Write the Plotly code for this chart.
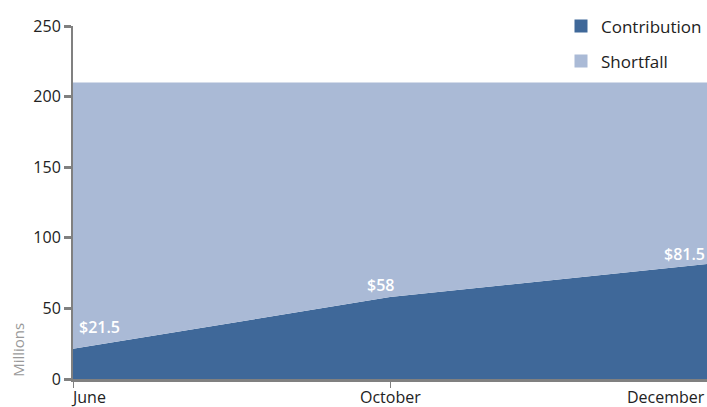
import plotly.graph_objects as go

months = ["June", "October", "December"]
contribution = [21.5, 58, 81.5]
total = [210, 210, 210]
shortfall = [t - c for t, c in zip(total, contribution)]
labels = ["$21.5", "$58", "$81.5"]
y_ticks = [0, 50, 100, 150, 200, 250]

xs = list(range(len(months)))
FONT = "'Open Sans', Lato, sans-serif"
C_CONTRIB = "#3f6899"
C_SHORT = "#aabad6"

fig = go.Figure()
fig.add_trace(go.Scatter(x=xs, y=contribution, name="Contribution", mode="lines",
                         stackgroup="one", line=dict(width=0, color=C_CONTRIB),
                         fillcolor=C_CONTRIB, hoverinfo="skip", showlegend=False))
fig.add_trace(go.Scatter(x=xs, y=shortfall, name="Shortfall", mode="lines",
                         stackgroup="one", line=dict(width=0, color=C_SHORT),
                         fillcolor=C_SHORT, hoverinfo="skip", showlegend=False))
# legend swatches
for name, col in [("Contribution", C_CONTRIB), ("Shortfall", C_SHORT)]:
    fig.add_trace(go.Scatter(x=[None], y=[None], mode="markers", name=name, legendgroup=name,
                             marker=dict(symbol="square", size=13, color=col)))

anns = []
xanchors = ["left", "center", "right"]
xshifts = [4, -10, 0]
yshifts = [22, 12, 10]
for i, lab in enumerate(labels):
    anns.append(dict(x=xs[i], y=contribution[i], text=lab, showarrow=False,
                     xanchor=xanchors[i], yanchor="middle", xshift=xshifts[i], yshift=yshifts[i],
                     font=dict(family=FONT, size=16, color="white", weight=600)))
for i, m in enumerate(months):
    anns.append(dict(x=xs[i], y=0, yref="y", text=m, showarrow=False,
                     xanchor=xanchors[i], yanchor="top", yshift=-5, xshift=[-4, 0, 0][i],
                     font=dict(family=FONT, size=16, color="#222")))
anns.append(dict(xref="paper", yref="paper", x=-0.087, y=0.0, text="Millions", textangle=-90,
                 showarrow=False, xanchor="center", yanchor="bottom",
                 font=dict(family=FONT, size=15, color="#999")))

fig.update_layout(
    width=707, height=407,
    margin=dict(l=73, r=0, t=26, b=28, autoexpand=False),
    paper_bgcolor="white", plot_bgcolor="white",
    font=dict(family=FONT, size=16, color="#222"),
    showlegend=True,
    legend=dict(x=1.0, y=1.05, xanchor="right", yanchor="top", traceorder="grouped",
                font=dict(size=17, color="#222"), bgcolor="rgba(0,0,0,0)",
                tracegroupgap=10, borderwidth=0),
    xaxis=dict(range=[0, 2], tickvals=[0, 1], showticklabels=False, ticks="outside",
               ticklen=6, tickcolor="#808080", tickwidth=1,
               showline=True, linecolor="#808080", linewidth=3, showgrid=False, zeroline=False,
               fixedrange=True),
    yaxis=dict(range=[0, 250], tickvals=y_ticks, ticks="outside", ticklen=7,
               tickcolor="#808080", tickwidth=3, showline=True, linecolor="#808080",
               linewidth=2, showgrid=False, zeroline=False, tickfont=dict(size=16, color="#222")),
    annotations=anns,
)

fig.write_html("out.html", config={"displayModeBar": False},
               post_script="document.body.style.margin='0';document.body.style.overflow='hidden';")
